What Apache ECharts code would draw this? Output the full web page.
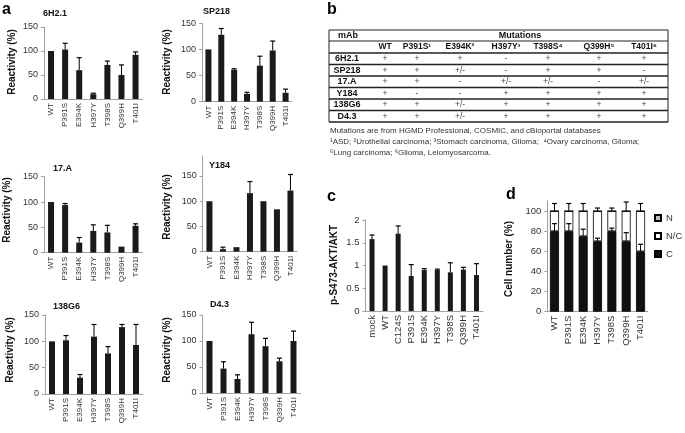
<!DOCTYPE html>
<html><head><meta charset="utf-8">
<script src="https://cdn.jsdelivr.net/npm/echarts@6/dist/echarts.min.js"></script>
<style>html,body{margin:0;padding:0;background:#fff}#c{width:685px;height:433px}</style>
</head><body><div id="c"></div>
<script>
// ---------- data ----------
const mutCats = ['WT','P391S','E394K','H397Y','T398S','Q399H','T401I'];
const aktCats = ['mock','WT','C124S','P391S','E394K','H397Y','T398S','Q399H','T401I'];

const r6H21    = [100,103,60,10,71,50,92];
const r6H21Err = [null,116,86,12,79,71,98];
const rSP218    = [100,128,61,15,69,98,17];
const rSP218Err = [null,140,63,18,87,116,24];
const r17A    = [100,94,20,43,40,12,53];
const r17AErr = [null,97,30,55,54,null,57];
const rY184    = [100,5,9,116,100,84,121];
const rY184Err = [null,9,null,139,null,null,153];
const r138G6    = [100,102,31,109,77,127,93];
const r138G6Err = [null,111,37,132,90,132,132];
const rD43    = [100,47,27,113,90,61,100];
const rD43Err = [null,60,35,136,105,67,119];

const akt    = [1.58,1.0,1.70,0.77,0.90,0.90,0.85,0.91,0.79];
const aktErr = [1.67,null,1.87,1.02,0.93,0.92,1.06,0.96,1.04];

const cellN  = [0,0,0,0,0,0,0];
const cellNC = [20,20,25,30,20,30,40];
const cellC  = [80,80,75,70,80,70,60];
const cellCErr   = [87.5,87.5,82,73,83,78.5,67];
const cellTopErr = [107.5,107.5,107.5,103,103,109,107.5];

const tableMabs = ['6H2.1','SP218','17.A','Y184','138G6','D4.3'];
const tableCols = ['WT','P391S\u00b9','E394K\u00b2','H397Y\u00b3','T398S\u2074','Q399H\u2075','T401I\u2076'];
const tableRows = [
  ['+','+','+','-','+','+','+'],
  ['+','+','+/-','-','+','+','-'],
  ['+','+','-','+/-','+/-','-','+/-'],
  ['+','-','-','+','+','+','+'],
  ['+','+','+/-','+','+','+','+'],
  ['+','+','+/-','+','+','+','+']
];
const footnotes = [
  'Mutations are from HGMD Professional, COSMIC, and cBioportal databases',
  '\u00b9ASD; \u00b2Urothelial carcinoma; \u00b3Stomach carcinoma, Glioma;  \u2074Ovary carcinoma, Glioma;',
  '\u2075Lung carcinoma; \u2076Glioma, Leiomyosarcoma.'
];

// ---------- builders ----------
const FONT = '"Liberation Sans", Arial, sans-serif';
const AX = '#a0a0a0';
const grids = [], xAxes = [], yAxes = [], series = [], graphics = [];

function errSeries(ai, vals, errs){
  const data = [];
  vals.forEach((v,i)=>{ if (errs[i] != null) data.push([i, v, errs[i]]); });
  return {
    type:'custom', xAxisIndex:ai, yAxisIndex:ai, z:5, silent:true,
    renderItem:(p, api)=>{
      const a = api.coord([api.value(0), api.value(1)]);
      const b = api.coord([api.value(0), api.value(2)]);
      const hw = 2.5;
      return {type:'group', children:[
        {type:'line', shape:{x1:a[0],y1:a[1],x2:b[0],y2:b[1]}, style:{stroke:'#000',lineWidth:1}},
        {type:'line', shape:{x1:b[0]-hw,y1:b[1],x2:b[0]+hw,y2:b[1]}, style:{stroke:'#000',lineWidth:1.2}}
      ]};
    },
    data
  };
}

function addAxes(g, cats, o){
  const ai = grids.length;
  grids.push({left:g.l, top:g.t, width:g.w, height:g.h});
  xAxes.push({gridIndex:ai, type:'category', data:cats,
    axisLine:{lineStyle:{color:AX}}, axisTick:{show:false},
    axisLabel:{rotate:90, interval:0, fontSize:o.xfs, color:'#333', fontFamily:FONT, margin:4}});
  const y = {gridIndex:ai, type:'value', min:0, max:o.max,
    splitLine:{show:false},
    axisLine:{show:true, lineStyle:{color:AX}},
    axisTick:{show:true, length:3, lineStyle:{color:AX}},
    axisLabel:{fontSize:o.yfs, color:'#333', fontFamily:FONT, margin:6}};
  if (o.ticks) { y.axisLabel.customValues = o.ticks; y.axisTick.customValues = o.ticks; }
  else y.interval = o.int;
  yAxes.push(y);
  return ai;
}

function addBarPanel(g, cats, vals, errs, o){
  const ai = addAxes(g, cats, o);
  series.push({type:'bar', xAxisIndex:ai, yAxisIndex:ai, data:vals, barWidth:o.bw,
    itemStyle:{color:'#1a1a1a'}, silent:true});
  series.push(errSeries(ai, vals, errs));
}

function txt(x, y, text, o = {}){
  graphics.push({type:'text', x, y, rotation:o.rot || 0, silent:true,
    style:{text, fill:o.color || '#222', fontSize:o.size || 9, fontWeight:o.weight || 'normal',
      fontFamily:FONT, textAlign:o.align || 'left', align:o.align || 'left',
      textVerticalAlign:'middle', verticalAlign:'middle'}});
}
function hline(x1, x2, y, w){
  graphics.push({type:'line', silent:true, shape:{x1, y1:y, x2, y2:y}, style:{stroke:'#222', lineWidth:w || 1}});
}
function vline(x, y1, y2, w){
  graphics.push({type:'line', silent:true, shape:{x1:x, y1, x2:x, y2}, style:{stroke:'#222', lineWidth:w || 1}});
}

// ---------- panel a ----------
const aOpt = {max:150, int:50, bw:6, xfs:8, yfs:9};
addBarPanel({l:44, t:27, w:98.6, h:72}, mutCats, r6H21, r6H21Err, aOpt);
addBarPanel({l:202, t:23.3, w:90, h:78.4}, mutCats, rSP218, rSP218Err, aOpt);
addBarPanel({l:44, t:176.7, w:98.6, h:76}, mutCats, r17A, r17AErr, aOpt);
addBarPanel({l:202.7, t:155.8, w:94.5, h:95.9}, mutCats, rY184, rY184Err, Object.assign({}, aOpt, {max:190, ticks:[0,50,100,150]}));
addBarPanel({l:45, t:315, w:98, h:79}, mutCats, r138G6, r138G6Err, aOpt);
addBarPanel({l:202.5, t:315, w:98, h:78}, mutCats, rD43, rD43Err, aOpt);

// ---------- panel c ----------
addBarPanel({l:365.5, t:220, w:117.5, h:91}, aktCats, akt, aktErr, {max:2, int:0.5, bw:5, xfs:9.5, yfs:9.5});

// ---------- panel d ----------
const dAi = addAxes({l:547.3, t:201, w:100.4, h:110.7}, mutCats, {max:110, ticks:[0,20,40,60,80,100], xfs:9.5, yfs:9.5});
const dStyle = (c)=>({color:c, borderColor:'#000', borderWidth:0.8});
series.push({type:'bar', name:'C', stack:'d', xAxisIndex:dAi, yAxisIndex:dAi, data:cellC, barWidth:9, itemStyle:dStyle('#111'), silent:true});
series.push({type:'bar', name:'N/C', stack:'d', xAxisIndex:dAi, yAxisIndex:dAi, data:cellNC, barWidth:9, itemStyle:dStyle('#fff'), silent:true});
series.push({type:'bar', name:'N', stack:'d', xAxisIndex:dAi, yAxisIndex:dAi, data:cellN, barWidth:9, itemStyle:dStyle('#bfbfbf'), silent:true});
series.push(errSeries(dAi, cellC, cellCErr));
series.push(errSeries(dAi, cellC.map((v,i)=>v + cellNC[i] + cellN[i]), cellTopErr));

// ---------- text labels ----------
txt(2, 10, 'a', {size:16, weight:'bold', color:'#000'});
txt(327, 10, 'b', {size:16, weight:'bold', color:'#000'});
txt(327, 197, 'c', {size:16, weight:'bold', color:'#000'});
txt(506, 195, 'd', {size:16, weight:'bold', color:'#000'});

const titles = [['6H2.1',43,14],['SP218',203,12],['17.A',53,169],['Y184',209,166],['138G6',53,307],['D4.3',210,305]];
titles.forEach(t=>txt(t[1], t[2], t[0], {weight:'bold', size:9, color:'#111'}));

[[12,62],[167,62],[7,210],[167,207],[10,350],[167,350]].forEach(p=>
  txt(p[0], p[1], 'Reactivity (%)', {rot:Math.PI/2, align:'center', weight:'bold', size:10, color:'#111'}));
txt(334, 265, 'p-S473-AKT/AKT', {rot:Math.PI/2, align:'center', weight:'bold', size:10, color:'#111'});
txt(509, 259, 'Cell number (%)', {rot:Math.PI/2, align:'center', weight:'bold', size:10, color:'#111'});

// ---------- panel b table ----------
const tL = 329, tR = 668, tTop = 30, hdrH1 = 11, hdrH2 = 12, rowH = 11.5;
const bodyTop = tTop + hdrH1 + hdrH2;
const tBottom = bodyTop + tableRows.length*rowH;
const colX = [385, 417, 460, 506, 548, 599, 644];
const mabX = 347;
hline(tL, tR, tTop, 1.2);
vline(tL, tTop, tBottom, 1);
vline(tR, tTop, tBottom, 1);
txt(338, tTop + hdrH1/2, 'mAb', {weight:'bold', size:9, color:'#111'});
txt(520, tTop + hdrH1/2, 'Mutations', {weight:'bold', size:9, align:'center', color:'#111'});
hline(tL, tR, tTop + hdrH1, 1);
tableCols.forEach((c,i)=>txt(colX[i], tTop + hdrH1 + hdrH2/2, c, {weight:'bold', size:8.5, align:'center', color:'#111'}));
hline(tL, tR, bodyTop, 1.5);
tableRows.forEach((row, r)=>{
  const yc = bodyTop + rowH*(r + 0.5);
  txt(mabX, yc, tableMabs[r], {weight:'bold', size:9, align:'center', color:'#111'});
  row.forEach((v,i)=>txt(colX[i], yc, v, {size:8.5, align:'center', color:'#444'}));
  hline(tL, tR, bodyTop + rowH*(r + 1), 1.5);
});
footnotes.forEach((f,i)=>txt(330, tBottom + 9 + i*11, f, {size:8, color:'#333'}));

// ---------- chart ----------
const chart = echarts.init(document.getElementById('c'), null, {renderer:'canvas'});
chart.setOption({
  animation:false,
  backgroundColor:'#fff',
  grid:grids, xAxis:xAxes, yAxis:yAxes, series,
  legend:{data:['N','N/C','C'], orient:'vertical', left:654, top:213, padding:0, itemWidth:6, itemHeight:6, itemGap:8,
    icon:'rect', selectedMode:false, textStyle:{fontSize:9.5, fontFamily:FONT, color:'#333'}},
  graphic:{elements:graphics}
});
</script></body></html>
